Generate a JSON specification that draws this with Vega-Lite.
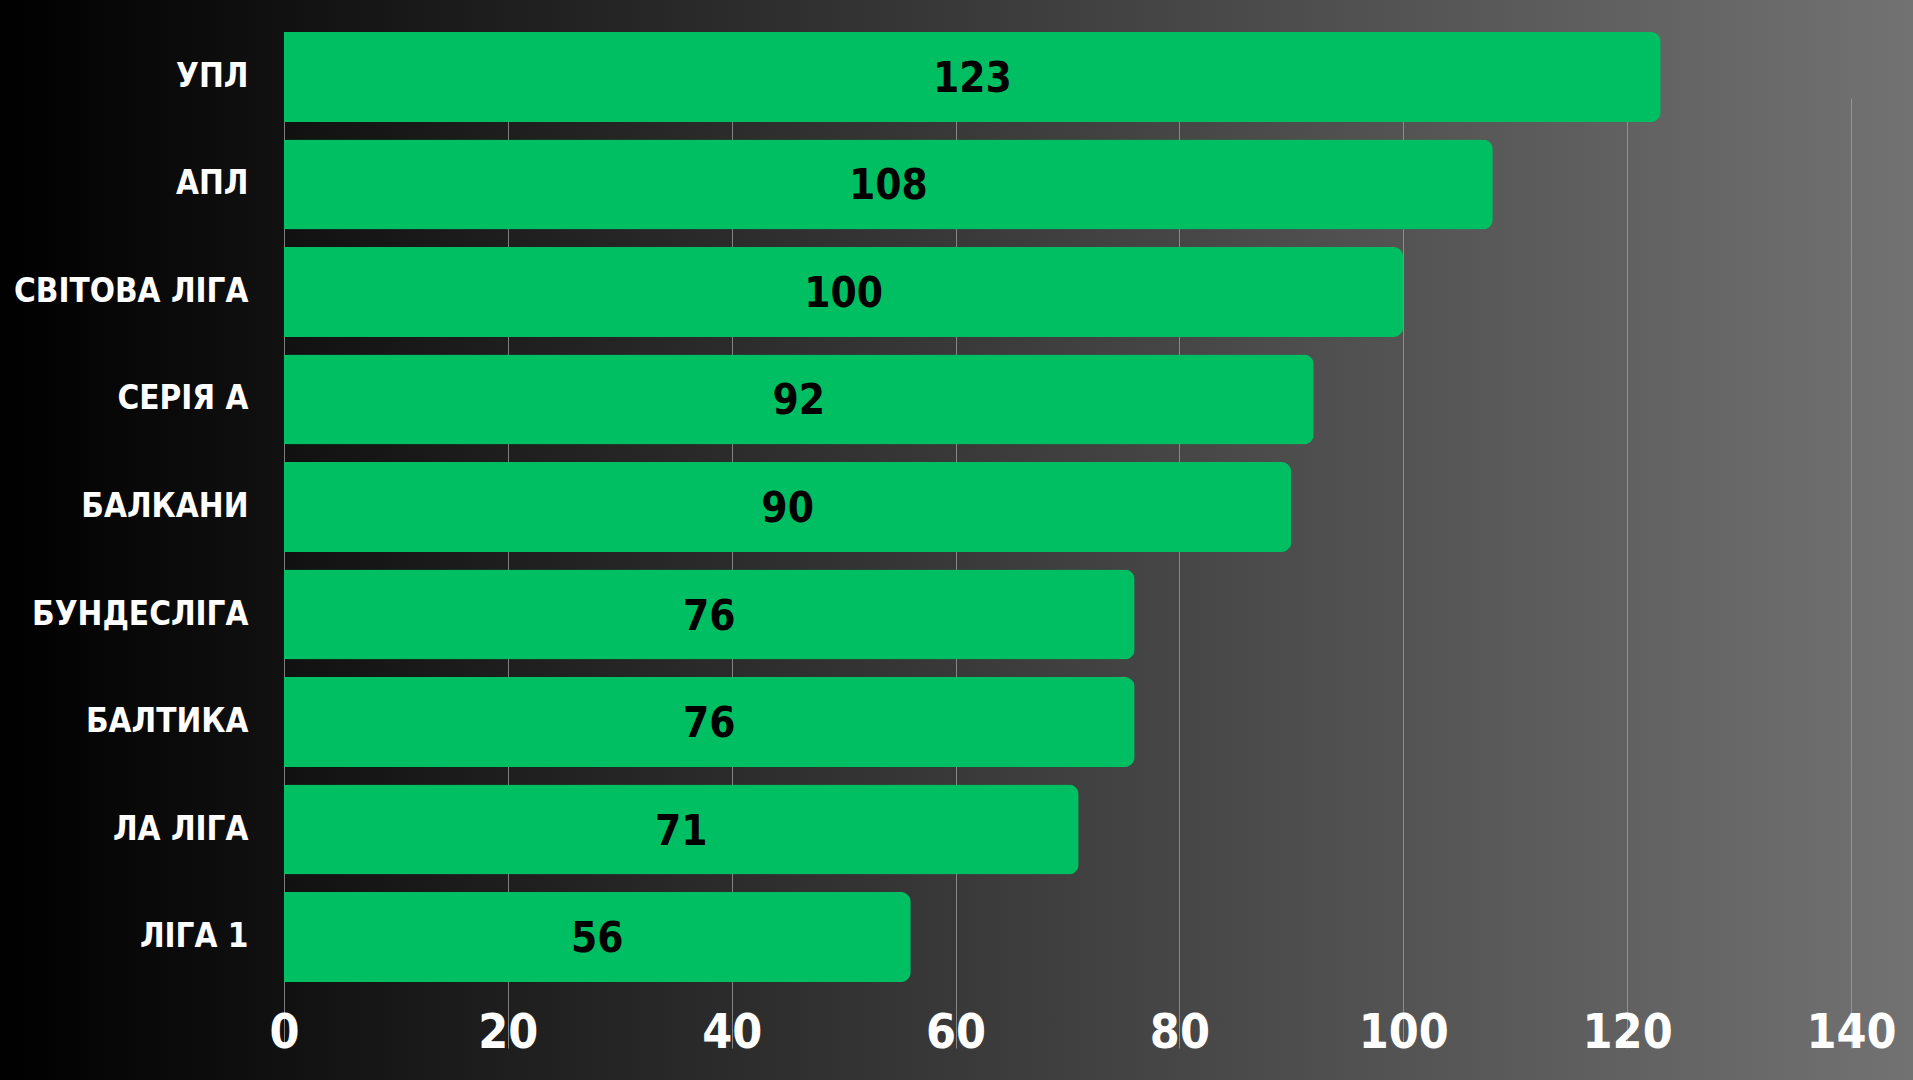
{
  "$schema": "https://vega.github.io/schema/vega-lite/v6.json",
  "width": 1913,
  "height": 1080,
  "autosize": {"type": "none"},
  "padding": 0,
  "background": "#3a3a3a",
  "data": {
    "values": [
      {"league": "УПЛ", "count": 123},
      {"league": "АПЛ", "count": 108},
      {"league": "СВІТОВА ЛІГА", "count": 100},
      {"league": "СЕРІЯ А", "count": 92},
      {"league": "БАЛКАНИ", "count": 90},
      {"league": "БУНДЕСЛІГА", "count": 76},
      {"league": "БАЛТИКА", "count": 76},
      {"league": "ЛА ЛІГА", "count": 71},
      {"league": "ЛІГА 1", "count": 56}
    ]
  },
  "encoding": {
    "y": {
      "field": "league",
      "type": "nominal",
      "sort": null,
      "title": null,
      "scale": {"range": [32, 982], "paddingInner": 0.163, "paddingOuter": 0},
      "axis": {
        "orient": "left",
        "offset": -284,
        "labelPadding": 36,
        "labelFontSize": 33,
        "labelLimit": 0,
        "labelBaseline": "middle",
        "ticks": false,
        "tickSize": 0,
        "domain": false,
        "grid": false
      }
    }
  },
  "layer": [
    {
      "mark": {"type": "bar", "color": "#00bf63", "cornerRadiusEnd": 10},
      "encoding": {
        "x": {
          "field": "count",
          "type": "quantitative",
          "title": null,
          "scale": {"domain": [-25.37, 145.54], "nice": false, "zero": false},
          "axis": {
            "orient": "bottom",
            "values": [0, 20, 40, 60, 80, 100, 120, 140],
            "offset": -98,
            "labelPadding": 65,
            "labelBaseline": "alphabetic",
            "labelFontSize": 48,
            "labelLimit": 0,
            "ticks": false,
            "tickSize": 0,
            "domain": false,
            "grid": true,
            "gridColor": "#a0a0a0",
            "gridOpacity": 0.75,
            "gridWidth": 1
          }
        }
      }
    },
    {
      "mark": {"type": "text", "color": "#000000", "fontSize": 42, "fontWeight": "bold", "baseline": "middle", "align": "center", "dy": 2, "font": "DejaVu Sans Condensed"},
      "encoding": {
        "x": {
          "field": "count",
          "type": "quantitative",
          "scale": {"domain": [-50.74, 291.08], "nice": false, "zero": false},
          "axis": null
        },
        "text": {"field": "count", "type": "quantitative"}
      }
    }
  ],
  "resolve": {"scale": {"x": "independent"}},
  "config": {
    "view": {
      "stroke": null,
      "fill": {
        "gradient": "linear",
        "x1": 0, "y1": 0, "x2": 1, "y2": 0,
        "stops": [
          {"offset": 0, "color": "#000000"},
          {"offset": 1, "color": "#727272"}
        ]
      }
    },
    "axis": {
      "labelColor": "#ffffff",
      "labelFont": "DejaVu Sans Condensed",
      "labelFontWeight": "bold"
    }
  }
}
